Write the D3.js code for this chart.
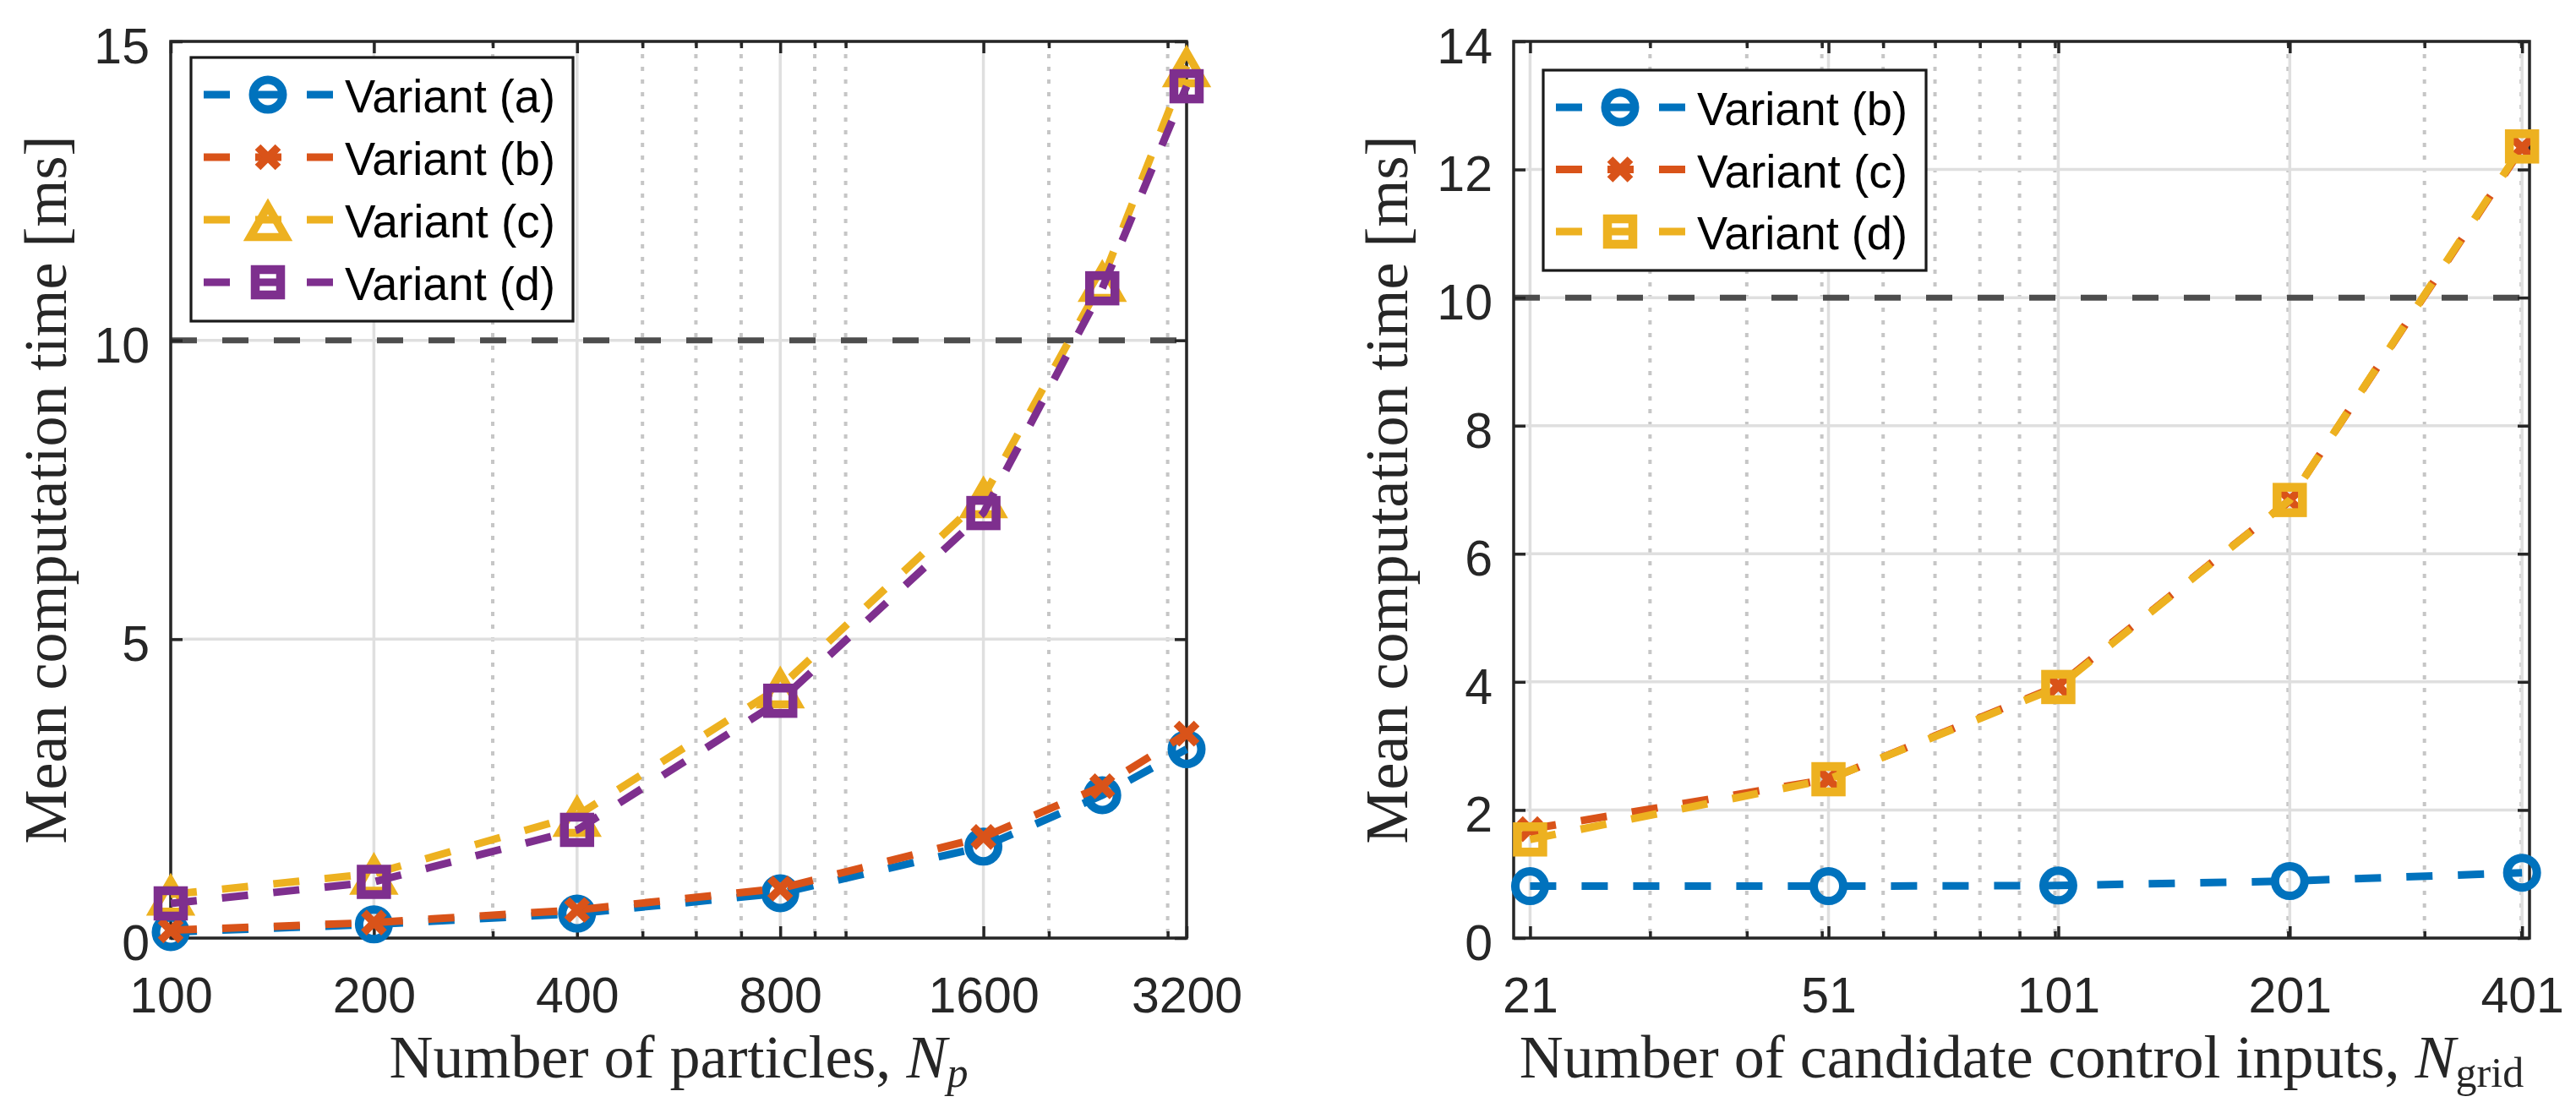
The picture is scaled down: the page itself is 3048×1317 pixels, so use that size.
<!DOCTYPE html>
<html>
<head>
<meta charset="utf-8">
<script src="https://cdn.jsdelivr.net/npm/d3@7"></script>
<style>
  html, body { margin: 0; padding: 0; background: #fff; }
  svg { display: block; }
</style>
</head>
<body>
<svg id="chart"></svg>
<script>
// values

// left panel: computation time vs number of particles
const particleCounts = [100, 200, 400, 800, 1600, 2400, 3200];
const particleTicks = [100, 200, 400, 800, 1600, 3200];
const particleMinor = [300, 500, 600, 700, 900, 1000, 2000, 3000];
const particleTimeA = [0.10, 0.23, 0.41, 0.75, 1.53, 2.39, 3.16];
const particleTimeB = [0.13, 0.26, 0.47, 0.83, 1.69, 2.54, 3.42];
const particleTimeC = [0.73, 1.08, 2.05, 4.20, 7.38, 11.00, 14.59];
const particleTimeD = [0.58, 0.94, 1.81, 3.97, 7.11, 10.87, 14.25];
const leftYTicks = [0, 5, 10, 15];

// right panel: computation time vs number of candidate inputs
const gridCounts = [21, 51, 101, 201, 401];
const gridTicks = [21, 51, 101, 201, 401];
const gridMinor = [30, 40, 50, 60, 70, 80, 90, 100, 200, 300, 400];
const gridTimeB = [0.81, 0.81, 0.82, 0.89, 1.02];
const gridTimeC = [1.70, 2.48, 3.94, 6.84, 12.34];
const gridTimeD = [1.54, 2.48, 3.92, 6.84, 12.36];
const rightYTicks = [0, 2, 4, 6, 8, 10, 12, 14];

const budgetMs = 10; // real-time limit (dashed black line)

// MATLAB default colour order
const cBlue = "#0072BD", cOrange = "#D95319", cYellow = "#EDB120", cPurple = "#7E2F8E";

const W = 3048, H = 1317;
const svg = d3.select("#chart").attr("width", W).attr("height", H);
svg.append("rect").attr("width", W).attr("height", H).attr("fill", "#fff");

const axisColor = "#262626";
const tickFont = "'Liberation Sans', Arial, Helvetica, sans-serif";
const serifFont = "'Liberation Serif', 'Times New Roman', serif";

// marker drawing
function drawMarker(sel, type, color) {
  if (type === "circle") {
    sel.append("circle").attr("r", 17.5).attr("fill", "none")
      .attr("stroke", color).attr("stroke-width", 10);
  } else if (type === "square") {
    sel.append("rect").attr("x", -15).attr("y", -15).attr("width", 30).attr("height", 30)
      .attr("fill", "none").attr("stroke", color).attr("stroke-width", 10.5);
  } else if (type === "triangle") {
    sel.append("path").attr("d", "M0,-16L21,20.5L-21,20.5Z").attr("fill", "none")
      .attr("stroke", color).attr("stroke-width", 9.5).attr("stroke-linejoin", "miter");
  } else if (type === "x") {
    sel.append("path").attr("d", "M-12,-12L12,12M-12,12L12,-12").attr("fill", "none")
      .attr("stroke", color).attr("stroke-width", 9.5);
  }
}

function drawPanel(p) {
  const g = svg.append("g");
  const x = d3.scaleLog().base(10).domain(p.xDomain).range([p.left, p.right]);
  const y = d3.scaleLinear().domain(p.yDomain).range([p.bottom, p.top]);

  // minor (dotted) and major (solid) grid
  g.append("g").selectAll("line").data(p.xMinor).join("line")
    .attr("x1", d => x(d)).attr("x2", d => x(d))
    .attr("y1", p.top).attr("y2", p.bottom)
    .attr("stroke", "#c6c6c6").attr("stroke-width", 4).attr("stroke-dasharray", "5,10");
  g.append("g").selectAll("line").data(p.xTicks).join("line")
    .attr("x1", d => x(d)).attr("x2", d => x(d))
    .attr("y1", p.top).attr("y2", p.bottom)
    .attr("stroke", "#dfdfdf").attr("stroke-width", 3.5);
  g.append("g").selectAll("line").data(p.yTicks).join("line")
    .attr("x1", p.left).attr("x2", p.right)
    .attr("y1", d => y(d)).attr("y2", d => y(d))
    .attr("stroke", "#dfdfdf").attr("stroke-width", 3.5);

  // threshold line
  g.append("line")
    .attr("x1", p.left).attr("x2", p.right)
    .attr("y1", y(budgetMs)).attr("y2", y(budgetMs))
    .attr("stroke", "#4d4d4d").attr("stroke-width", 7).attr("stroke-dasharray", "31,30");

  // box
  g.append("rect")
    .attr("x", p.left).attr("y", p.top)
    .attr("width", p.right - p.left).attr("height", p.bottom - p.top)
    .attr("fill", "none").attr("stroke", axisColor).attr("stroke-width", 3.5);

  // ticks (inward, on all four sides)
  function styleAxis(ag) {
    ag.select(".domain").remove();
    ag.selectAll(".tick line").attr("stroke", axisColor).attr("stroke-width", 3.5);
    ag.selectAll(".tick text").attr("fill", axisColor)
      .attr("font-family", tickFont).attr("font-size", 59);
    return ag;
  }
  styleAxis(g.append("g").attr("transform", `translate(0,${p.bottom})`)
    .call(d3.axisBottom(x).tickValues(p.xTicks).tickFormat(d => d)
      .tickSizeInner(-14).tickSizeOuter(0).tickPadding(46)));
  styleAxis(g.append("g").attr("transform", `translate(0,${p.bottom})`)
    .call(d3.axisBottom(x).tickValues(p.xMinor).tickFormat("")
      .tickSizeInner(-8).tickSizeOuter(0)));
  styleAxis(g.append("g").attr("transform", `translate(0,${p.top})`)
    .call(d3.axisTop(x).tickValues(p.xTicks).tickFormat("")
      .tickSizeInner(-14).tickSizeOuter(0)));
  styleAxis(g.append("g").attr("transform", `translate(0,${p.top})`)
    .call(d3.axisTop(x).tickValues(p.xMinor).tickFormat("")
      .tickSizeInner(-8).tickSizeOuter(0)));
  styleAxis(g.append("g").attr("transform", `translate(${p.left},0)`)
    .call(d3.axisLeft(y).tickValues(p.yTicks).tickFormat(d3.format("d"))
      .tickSizeInner(-14).tickSizeOuter(0).tickPadding(25)))
    .selectAll(".tick text").attr("dy", "0.43em");
  styleAxis(g.append("g").attr("transform", `translate(${p.right},0)`)
    .call(d3.axisRight(y).tickValues(p.yTicks).tickFormat("")
      .tickSizeInner(-14).tickSizeOuter(0)));

  // series
  const line = d3.line().x(d => x(d[0])).y(d => y(d[1]));
  p.series.forEach(s => {
    const pts = p.xValues.map((v, i) => [v, s.values[i]]);
    const sg = g.append("g");
    sg.append("path").datum(pts).attr("d", line)
      .attr("fill", "none").attr("stroke", s.color).attr("stroke-width", 9)
      .attr("stroke-dasharray", "31,30");
    sg.selectAll("g.mk").data(pts).join("g").attr("class", "mk")
      .attr("transform", d => `translate(${x(d[0])},${y(d[1])})`)
      .each(function () { drawMarker(d3.select(this), s.marker, s.color); });
  });

  // legend
  const L = p.legend;
  const lg = g.append("g").attr("transform", `translate(${L.x},${L.y})`);
  lg.append("rect").attr("width", L.w).attr("height", L.h)
    .attr("fill", "#fff").attr("stroke", "#1a1a1a").attr("stroke-width", 3.2);
  p.series.forEach((s, i) => {
    const row = lg.append("g").attr("transform", `translate(0,${L.first + i * L.step})`);
    row.append("line").attr("x1", 15).attr("x2", 168).attr("y1", 0).attr("y2", 0)
      .attr("stroke", s.color).attr("stroke-width", 9).attr("stroke-dasharray", "31,30");
    drawMarker(row.append("g").attr("transform", "translate(91,0)"), s.marker, s.color);
    row.append("text").attr("x", 182).attr("y", 21)
      .attr("font-family", tickFont).attr("font-size", 56).attr("fill", "#000")
      .attr("textLength", 249).attr("lengthAdjust", "spacingAndGlyphs")
      .text(s.name);
  });

  // axis labels
  const xl = g.append("text")
    .attr("x", (p.left + p.right) / 2).attr("y", 1275)
    .attr("text-anchor", "middle").attr("font-family", serifFont)
    .attr("font-size", 72).attr("fill", axisColor);
  xl.append("tspan").text(p.xLabel);
  xl.append("tspan").attr("font-style", "italic").text("N");
  xl.append("tspan").attr("dy", 11).attr("font-size", 50)
    .attr("font-style", p.subItalic ? "italic" : "normal").text(p.xSub);

  g.append("text")
    .attr("transform", `translate(${p.yLabelX},${(p.top + p.bottom) / 2}) rotate(-90)`)
    .attr("text-anchor", "middle").attr("font-family", serifFont)
    .attr("font-size", 72).attr("fill", axisColor)
    .text("Mean computation time [ms]");
}

drawPanel({
  left: 202, right: 1404, top: 49, bottom: 1110,
  xDomain: [100, 3200], yDomain: [0, 15],
  xValues: particleCounts, xTicks: particleTicks, xMinor: particleMinor, yTicks: leftYTicks,
  series: [
    {name: "Variant (a)", values: particleTimeA, color: cBlue, marker: "circle"},
    {name: "Variant (b)", values: particleTimeB, color: cOrange, marker: "x"},
    {name: "Variant (c)", values: particleTimeC, color: cYellow, marker: "triangle"},
    {name: "Variant (d)", values: particleTimeD, color: cPurple, marker: "square"}
  ],
  legend: {x: 226, y: 68, w: 452, h: 312, first: 44, step: 74},
  xLabel: "Number of particles, ", xSub: "p", subItalic: true,
  yLabelX: 78
});

drawPanel({
  left: 1791, right: 2993, top: 49, bottom: 1110,
  xDomain: [20, 410], yDomain: [0, 14],
  xValues: gridCounts, xTicks: gridTicks, xMinor: gridMinor, yTicks: rightYTicks,
  series: [
    {name: "Variant (b)", values: gridTimeB, color: cBlue, marker: "circle"},
    {name: "Variant (c)", values: gridTimeC, color: cOrange, marker: "x"},
    {name: "Variant (d)", values: gridTimeD, color: cYellow, marker: "square"}
  ],
  legend: {x: 1826, y: 83, w: 453, h: 237, first: 44, step: 73.5},
  xLabel: "Number of candidate control inputs, ", xSub: "grid", subItalic: false,
  yLabelX: 1665
});
</script>
</body>
</html>
